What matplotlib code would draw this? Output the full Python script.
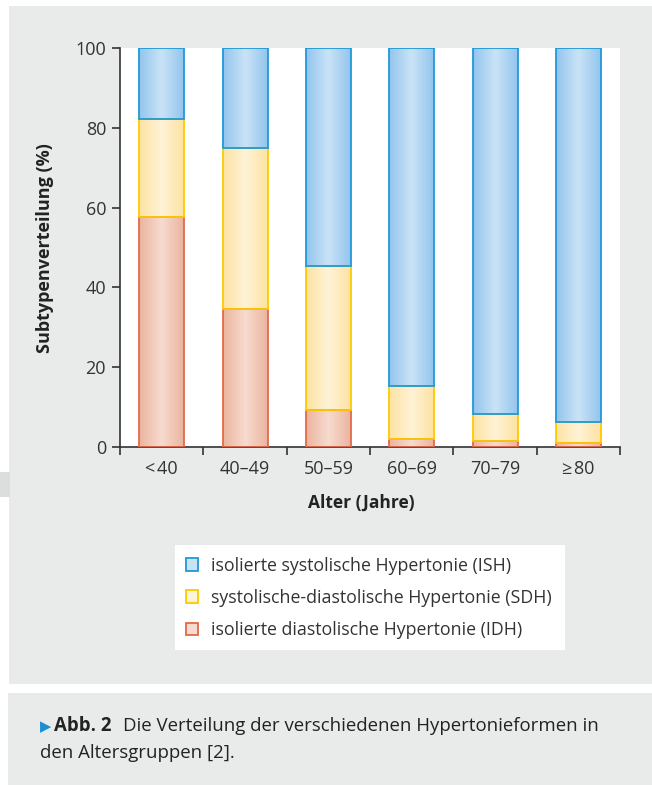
import numpy as np
import matplotlib
matplotlib.use('Agg')
import matplotlib.pyplot as plt
from matplotlib.patches import Rectangle
from matplotlib.colors import LinearSegmentedColormap

plt.rcParams['font.family'] = ['Open Sans', 'DejaVu Sans']

# Daten (Anteile in %)
groups = ['<\u200a40', '40–49', '50–59', '60–69', '70–79', '≥\u200a80']
idh = [57.6, 34.6, 9.2, 1.9, 1.4, 1.1]
sdh = [24.6, 40.4, 36.2, 13.5, 6.9, 5.1]
ish = [17.8, 25.0, 54.6, 84.6, 91.7, 93.8]
labels = ['isolierte systolische Hypertonie (ISH)',
          'systolische-diastolische Hypertonie (SDH)',
          'isolierte diastolische Hypertonie (IDH)']

# Farben: Rand, Mitte, Linie
styles = {
    'ISH': ('#93c5ed', '#c9e3f6', '#1f9ad8'),
    'SDH': ('#fde2a2', '#fff3d6', '#fcca00'),
    'IDH': ('#ebb49e', '#f7dbcf', '#e2694b'),
}

W, H = 652, 785
fig = plt.figure(figsize=(W / 100, H / 100), dpi=100)
fig.patch.set_facecolor('white')
grey = '#e9eaea'


def box(x0, y0, x1, y1, color):
    fig.patches.append(Rectangle((x0 / W, 1 - y1 / H), (x1 - x0) / W, (y1 - y0) / H,
                                 transform=fig.transFigure, facecolor=color,
                                 edgecolor='none', zorder=-10))


box(9, 6, 652, 684, grey)
box(8, 693, 652, 785, grey)
box(0, 472, 10, 497, '#dcdddd')
box(175, 545, 565, 650, 'white')

ax = fig.add_axes([120 / W, 1 - 447 / H, 500 / W, 399 / H])
ax.set_facecolor('white')

x = np.arange(len(groups))
bw = 0.54
bottom = np.zeros(len(groups))
grad = 1 - np.abs(np.linspace(-1, 1, 200))
for key, vals in [('IDH', idh), ('SDH', sdh), ('ISH', ish)]:
    edge_c, mid_c, line_c = styles[key]
    cmap = LinearSegmentedColormap.from_list(key, [edge_c, mid_c])
    bars = ax.bar(x, vals, bw, bottom=bottom, facecolor='none',
                  edgecolor=line_c, linewidth=1.3, zorder=3)
    for r in bars:
        ax.imshow(grad[np.newaxis, :], cmap=cmap, aspect='auto', zorder=2,
                  extent=[r.get_x(), r.get_x() + r.get_width(),
                          r.get_y(), r.get_y() + r.get_height()])
    bottom += np.array(vals)

ax.set_xlim(-0.5, len(groups) - 0.5)
ax.set_ylim(0, 100)
for s in ['top', 'right']:
    ax.spines[s].set_visible(False)
for s in ['left', 'bottom']:
    ax.spines[s].set_color('#333333')
    ax.spines[s].set_linewidth(1.2)

ax.set_yticks([0, 20, 40, 60, 80, 100])
ax.set_xticks(np.arange(len(groups) + 1) - 0.5)
ax.set_xticklabels([])
ax.set_xticks(x, minor=True)
ax.set_xticklabels(groups, minor=True)
ax.tick_params(axis='both', which='major', length=6, width=1.2, color='#333333',
               labelsize=13, labelcolor='#333333', pad=4)
ax.tick_params(axis='x', which='minor', length=0, labelsize=13,
               labelcolor='#333333', pad=9)

fig.text(45 / W, 1 - 248 / H, 'Subtypenverteilung (%)', rotation=90,
         ha='center', va='center', fontsize=13, fontweight='bold', color='#222222')
fig.text(361 / W, 1 - 503 / H, 'Alter (Jahre)', ha='center', va='center',
         fontsize=12.5, fontweight='bold', color='#222222')

handles = [Rectangle((0, 0), 1, 1, facecolor=styles[k][1], edgecolor=styles[k][2], linewidth=1.3)
           for k in ['ISH', 'SDH', 'IDH']]
fig.legend(handles, labels, loc='upper left', bbox_to_anchor=(177 / W, 1 - 548 / H),
           frameon=False, fontsize=12.8, handlelength=0.7, handleheight=0.7,
           handletextpad=0.7, labelspacing=0.79, borderpad=0, labelcolor='#333333')

# Bildunterschrift
fig.text(40 / W, 1 - 731 / H, '▶', fontsize=10.5, color='#1a8fd0', va='baseline',
         family=['DejaVu Sans'])
t1 = fig.text(54 / W, 1 - 731 / H, 'Abb. 2', fontsize=13.4, fontweight='bold',
              color='#222222', va='baseline')
fig.canvas.draw()
bb = t1.get_window_extent()
fig.text((bb.x1 + 12) / W, 1 - 731 / H,
         'Die Verteilung der verschiedenen Hypertonieformen in',
         fontsize=13.4, color='#222222', va='baseline')
fig.text(40 / W, 1 - 758 / H, 'den Altersgruppen [2].', fontsize=13.4,
         color='#222222', va='baseline')

fig.savefig('out.png', dpi=100, facecolor='white')
